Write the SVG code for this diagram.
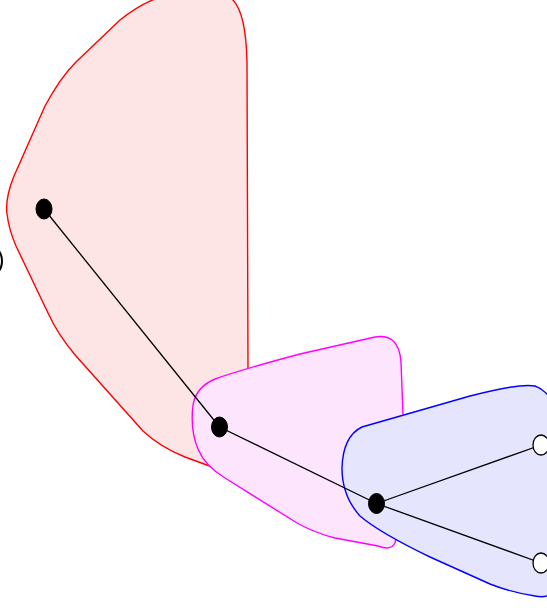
<svg xmlns="http://www.w3.org/2000/svg" width="547" height="612" viewBox="0 0 547 612">
<style>
.region{stroke-width:1.4;stroke-linejoin:round}
.edge{stroke:#000;stroke-width:1.3;fill:none}
.full{fill:#000;stroke:#000;stroke-width:1}
.open{fill:#fff;stroke:#000;stroke-width:1.3}
</style>
<rect width="547" height="612" fill="#fff"/>
<g id="region-red">
<path class="region" fill="#fee5e5" stroke="#ff0000" d="M 248 366 L 247 62 Q 246 12 232 -1 L 160 -3 Q 140 4 120 20 L 76 62 Q 60 78 45 106 L 14 176 Q 5 198 7 214 Q 9 230 16 246 L 48 313 Q 58 335 76 356 L 143 431 Q 160 447 185 457 L 215 468 L 245 460 Z"/>
</g>
<g id="region-magenta">
<path class="region" fill="#fde5fd" stroke="#ff00ff" d="M 395 543 Q 391 551 378 546 L 335 538 Q 315 533 297 523 L 225 478 Q 205 466 198 449 Q 190 430 193 405 Q 196 387 215 379 Q 240 370 300 354 L 375 337 Q 399 333 401 362 L 403 414 L 400 520 Z"/>
</g>
<g id="region-blue">
<path class="region" fill="#e5e5fd" stroke="#0000ff" d="M 362 427 L 470 396 Q 520 383 535 386 Q 551 392 556 412 L 560 570 Q 560 601 535 596 Q 510 592 490 584 L 430 557 Q 380 533 360 516 Q 342 496 342 468 Q 343 436 362 427 Z"/>
</g>
<g id="connectors">
<line class="edge" x1="44" y1="209" x2="219.5" y2="427"/>
<line class="edge" x1="219.5" y1="427" x2="376.5" y2="503.5"/>
<line class="edge" x1="376.5" y1="503.5" x2="541" y2="445"/>
<line class="edge" x1="376.5" y1="503.5" x2="541" y2="563"/>
</g>
<g id="node-left-partial">
<ellipse cx="-8" cy="261" rx="10" ry="14" fill="none" stroke="#000" stroke-width="2"/>
</g>
<g id="node-a"><ellipse class="full" cx="44" cy="209" rx="8" ry="10"/></g>
<g id="node-b"><ellipse class="full" cx="219.5" cy="427" rx="8" ry="10"/></g>
<g id="node-c"><ellipse class="full" cx="376.5" cy="503.5" rx="8" ry="10"/></g>
<g id="node-d"><ellipse class="open" cx="541" cy="445" rx="8" ry="10"/></g>
<g id="node-e"><ellipse class="open" cx="541" cy="563" rx="8" ry="10"/></g>
</svg>
